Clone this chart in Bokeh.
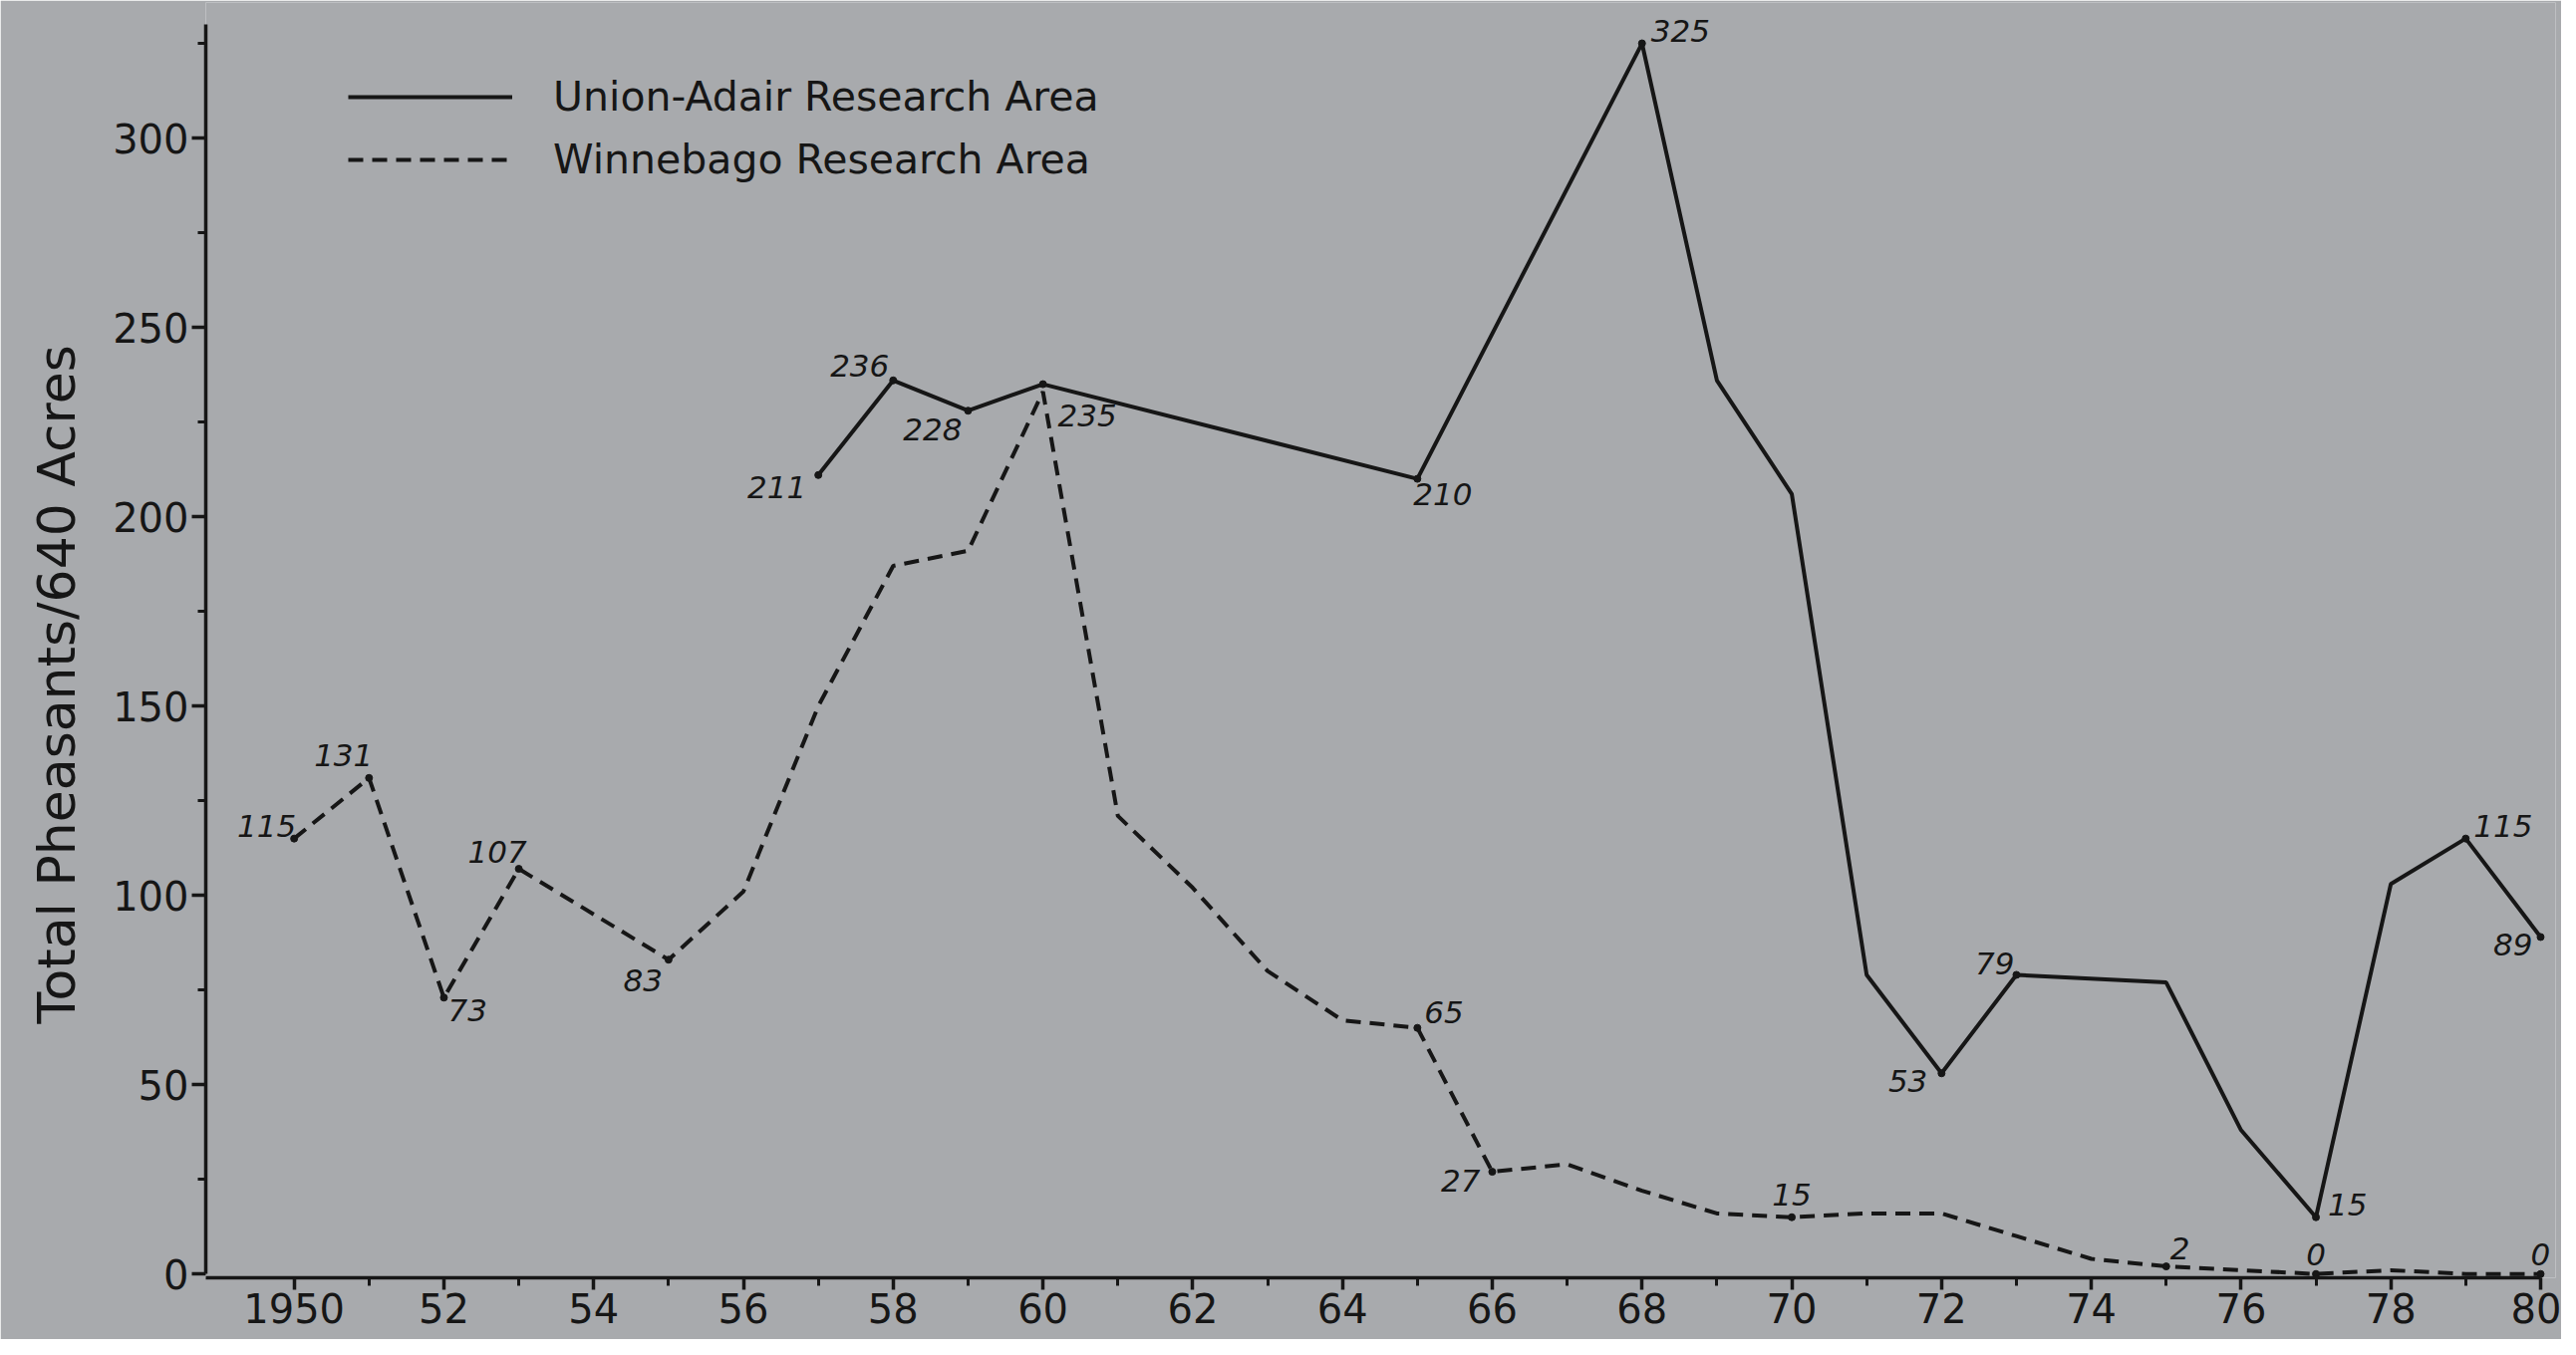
from bokeh.plotting import figure
from bokeh.models import ColumnDataSource, FixedTicker, Legend, LegendItem, Range1d, Title
from bokeh.core.properties import value
from bokeh.embed import file_html
from bokeh.resources import INLINE

# ---------------- data ----------------
union_years = [1957, 1958, 1959, 1960, 1965, 1968, 1969, 1970, 1971, 1972,
               1973, 1975, 1976, 1977, 1978, 1979, 1980]
union_vals = [211, 236, 228, 235, 210, 325, 236, 206, 79, 53,
              79, 77, 38, 15, 103, 115, 89]

winn_years = [1950, 1951, 1952, 1953, 1955, 1956, 1957, 1958, 1959, 1960,
              1961, 1962, 1963, 1964, 1965, 1966, 1967, 1968, 1969, 1970,
              1971, 1972, 1973, 1974, 1975, 1976, 1977, 1978, 1979, 1980]
winn_vals = [115, 131, 73, 107, 83, 101, 150, 187, 191, 233,
             121, 102, 80, 67, 65, 27, 29, 22, 16, 15,
             16, 16, 10, 4, 2, 1, 0, 1, 0, 0]

union_labeled_years = [1957, 1958, 1959, 1960, 1965, 1968, 1972, 1973, 1977, 1979, 1980]
winn_labeled_years = [1950, 1951, 1952, 1953, 1955, 1965, 1966, 1970, 1975, 1977, 1980]

x_major_ticks = list(range(1950, 1981, 2))
x_minor_ticks = list(range(1950, 1981))
x_tick_labels = ["1950", "52", "54", "56", "58", "60", "62", "64", "66", "68",
                 "70", "72", "74", "76", "78", "80"]
y_major_ticks = [0, 50, 100, 150, 200, 250, 300]
y_minor_ticks = [25, 75, 125, 175, 225, 275, 325]

series_names = ["Union-Adair Research Area", "Winnebago Research Area"]
y_title = "Total Pheasants/640 Acres"

# ---------------- label styling (screen offsets) ----------------
union_lab_align = ["right", "right", "right", "left", "left", "left", "right", "right", "left", "left", "right"]
union_lab_base = ["middle", "bottom", "top", "top", "top", "bottom", "middle", "bottom", "bottom", "bottom", "middle"]
union_lab_dx = [-12, -4, -6, 15, -4, 9, -14, -2, 12, 8, -8]
union_lab_dy = [12, -4, 8, 20, 4, -2, 8, 0, -2, -2, 8]

winn_lab_align = ["right", "right", "left", "right", "right", "left", "right", "center", "left", "center", "center"]
winn_lab_base = ["bottom", "bottom", "top", "bottom", "top", "bottom", "top", "bottom", "bottom", "bottom", "bottom"]
winn_lab_dx = [2, 4, 4, 8, -6, 7, -12, 0, 4, 0, 0]
winn_lab_dy = [-2, -12, 2, -6, 10, -5, -2, -12, -7, -9, -9]

BG = "#a8aaad"
INK = "#161616"
FONT = "DejaVu Sans"

p = figure(width=2570, height=1344,
           x_range=Range1d(1948.82, 1980.2), y_range=Range1d(-1, 335.8),
           output_backend="svg", toolbar_location=None,
           min_border_left=203, min_border_right=6,
           min_border_top=2, min_border_bottom=62)
p.background_fill_color = BG
p.border_fill_color = BG
p.outline_line_color = None
p.grid.visible = False

# ---------------- lines ----------------
r_union = p.line(union_years, union_vals, line_color=INK, line_width=4)
r_winn = p.line(winn_years, winn_vals, line_color=INK, line_width=4, line_dash="15 9")

# marker dots and labels
u_lab_vals = [union_vals[union_years.index(y)] for y in union_labeled_years]
w_lab_vals = [winn_vals[winn_years.index(y)] for y in winn_labeled_years]

p.scatter(union_labeled_years, u_lab_vals, size=7, color=INK)
p.scatter(winn_labeled_years, w_lab_vals, size=7, color=INK)

src_u = ColumnDataSource(dict(x=union_labeled_years, y=u_lab_vals,
                              t=[str(v) for v in u_lab_vals],
                              a=union_lab_align, b=union_lab_base,
                              dx=union_lab_dx, dy=union_lab_dy))
src_w = ColumnDataSource(dict(x=winn_labeled_years, y=w_lab_vals,
                              t=[str(v) for v in w_lab_vals],
                              a=winn_lab_align, b=winn_lab_base,
                              dx=winn_lab_dx, dy=winn_lab_dy))
for src in (src_u, src_w):
    p.text(x="x", y="y", text="t", source=src, text_align="a", text_baseline="b",
           x_offset="dx", y_offset="dy", text_font=value(FONT),
           text_font_style="italic", text_font_size="31px", text_color=INK)

# ---------------- axes ----------------
xa = p.xaxis[0]
xa.ticker = FixedTicker(ticks=x_major_ticks, minor_ticks=x_minor_ticks)
xa.major_label_overrides = {t: l for t, l in zip(x_major_ticks, x_tick_labels)}
xa.bounds = (1948.82, 1980)

ya = p.yaxis[0]
ya.ticker = FixedTicker(ticks=y_major_ticks, minor_ticks=y_minor_ticks)
ya.bounds = (0, 330)

for ax, tout, mout in ((xa, 12, 8), (ya, 14, 8)):
    ax.axis_line_color = INK
    ax.axis_line_width = 3.5
    ax.major_tick_line_color = INK
    ax.minor_tick_line_color = INK
    ax.major_tick_line_width = 3.5
    ax.minor_tick_line_width = 3
    ax.major_tick_out = tout
    ax.major_tick_in = 0
    ax.minor_tick_out = mout
    ax.minor_tick_in = 0
    ax.major_label_text_font = FONT
    ax.major_label_text_font_size = "40px"
    ax.major_label_text_color = INK
    ax.major_label_standoff = 3

# y-axis title (left side, placed lower than centre like the original)
ytitle = Title(text=y_title, align="left", offset=255, standoff=48,
               text_font=FONT, text_font_size="52px", text_font_style="normal",
               text_color=INK)
p.add_layout(ytitle, "left")

# ---------------- legend ----------------
legend = Legend(items=[LegendItem(label=series_names[0], renderers=[r_union]),
                       LegendItem(label=series_names[1], renderers=[r_winn])],
                location=(143, 1097), glyph_width=165, glyph_height=50,
                label_height=50, spacing=13, label_standoff=41,
                padding=0, margin=0, border_line_color=None,
                background_fill_alpha=0, label_text_font=FONT,
                label_text_font_size="41px", label_text_color=INK)
p.add_layout(legend)

open("out.html", "w").write(file_html(p, INLINE))
